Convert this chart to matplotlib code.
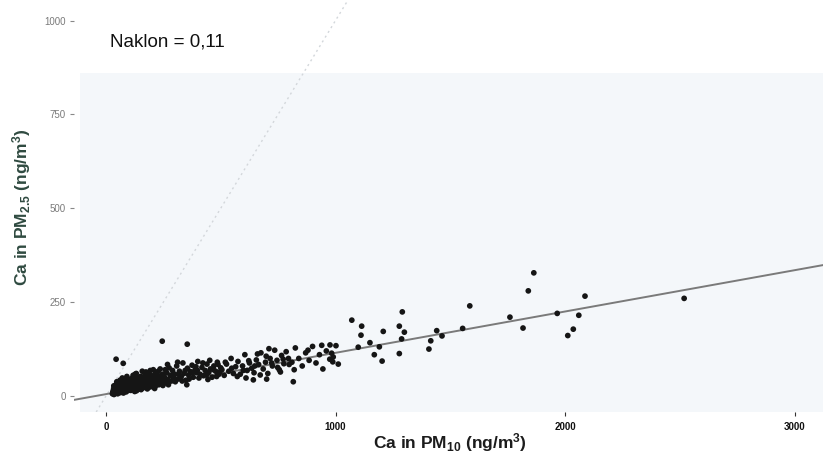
import matplotlib
matplotlib.use("Agg")
import matplotlib.pyplot as plt
from matplotlib.patches import Rectangle

# ---------------- data ----------------
ca_pm10 = [
    # dense low cluster
    28, 30, 32, 33, 35, 36, 38, 40, 41, 42, 44, 45, 46, 48, 50, 51, 52, 54, 55, 56,
    58, 60, 61, 62, 63, 65, 66, 68, 70, 71, 72, 74, 75, 76, 78, 80, 81, 82, 84, 85,
    86, 88, 90, 91, 92, 94, 95, 96, 98, 100,
    34, 39, 43, 47, 53, 57, 59, 64, 67, 69, 73, 77, 79, 83, 87, 89, 93, 97, 99, 37,
    49, 62, 74, 86,
    # 100-250
    102, 105, 108, 110, 112, 115, 118, 120, 122, 125, 128, 130, 132, 135, 138, 140,
    142, 145, 148, 150, 152, 155, 158, 160, 162, 165, 168, 170, 172, 175, 178, 180,
    182, 185, 188, 190, 192, 195, 198, 200, 203, 206, 210, 213, 216, 220, 223, 226,
    230, 233, 236, 240, 243, 246, 250,
    104, 113, 117, 124, 133, 137, 146, 153, 157, 166, 174, 183, 187, 196, 205, 212,
    218, 228, 238, 248, 109, 127, 143, 163, 177, 193, 215, 235,
    # 250-500
    255, 260, 265, 270, 275, 280, 285, 290, 295, 300, 308, 315, 320, 328, 335, 340,
    348, 355, 360, 368, 375, 380, 388, 395, 400, 410, 418, 425, 432, 440, 448, 455,
    462, 470, 478, 485, 492, 500,
    258, 272, 288, 302, 318, 332, 345, 362, 378, 392, 405, 422, 438, 452, 468, 482,
    496, 268, 312, 352, 398, 444, 488,
    # 500-800
    505, 515, 525, 535, 545, 555, 565, 575, 585, 595, 605, 615, 625, 635, 645, 655,
    665, 675, 685, 695, 705, 715, 725, 735, 745, 755, 765, 775, 785, 795,
    520, 548, 572, 598, 622, 648, 672, 698, 722, 748, 772, 798, 610, 660, 710, 760,
    816, 642, 700,
    # 800-1020
    810, 825, 840, 855, 870, 885, 900, 915, 930, 945, 960, 975, 990, 820, 880, 940,
    976, 1002, 983, 988, 1012,
    # outliers and high values
    245, 354, 44, 75,
    1071, 1114, 1111, 1291, 1278, 1300, 1208, 1288, 1150, 1191, 1099, 1169, 1203,
    1278, 1441, 1464, 1415, 1407, 1554, 1585, 1760, 1840, 1864, 1817, 1966, 2060,
    2087, 2036, 2012, 2519,
]
ca_pm25 = [
    6, 12, 9, 18, 4, 22, 14, 10, 27, 16, 8, 31, 20, 13, 24, 6, 35, 17, 11, 28,
    21, 15, 42, 9, 26, 19, 33, 12, 23, 48, 16, 29, 37, 8, 25, 18, 44, 30, 14, 22,
    35, 11, 27, 52, 19, 40, 24, 33, 15, 29,
    27, 20, 13, 38, 29, 25, 11, 34, 14, 30, 40, 21, 33, 26, 17, 45, 36, 20, 41, 15,
    19, 22, 11, 38,
    24, 38, 15, 46, 30, 20, 55, 35, 27, 12, 42, 31, 60, 22, 37, 48,
    18, 33, 26, 52, 41, 29, 66, 21, 36, 45, 32, 58, 24, 40, 50, 19,
    35, 62, 28, 44, 53, 31, 38, 25, 47, 70, 34, 56, 27, 43, 63, 39,
    30, 52, 72, 36, 49, 58, 41,
    18, 26, 40, 50, 14, 28, 44, 17, 30, 25, 64, 46, 23, 55, 32, 20,
    48, 66, 45, 28, 35, 58, 38, 50, 30, 68, 60, 33,
    50, 35, 62, 44, 75, 55, 40, 68, 48, 58, 80, 46, 66, 52, 88, 60,
    42, 74, 56, 65, 82, 50, 70, 62, 92, 58, 76, 54, 68, 85, 63, 72,
    50, 80, 66, 90, 58, 75,
    70, 30, 55, 38, 58, 40, 68, 45, 62, 78, 48, 88, 56, 95, 70, 52,
    64, 84, 90, 30, 68, 44, 84,
    70, 55, 85, 66, 100, 60, 78, 92, 58, 80, 110, 68, 88, 74, 62, 96,
    84, 115, 72, 90, 60, 100, 80, 122, 95, 70, 108, 86, 118, 100,
    90, 74, 52, 68, 94, 80, 56, 106, 88, 76, 98, 84, 48, 112, 126, 64,
    38, 43, 45,
    90, 128, 100, 80, 115, 95, 132, 88, 110, 72, 120, 98, 104, 70, 122, 135,
    136, 134, 114, 91, 85,
    146, 138, 98, 87,
    202, 186, 162, 224, 186, 170, 172, 152, 142, 131, 130, 110, 93,
    113, 174, 160, 147, 125, 180, 240, 210, 280, 328, 181, 220, 215,
    266, 178, 161, 260,
]

slope = 0.11
intercept = 5
annotation = "Naklon = 0,11"
x_ticks = [0, 1000, 2000, 3000]
y_ticks = [0, 250, 500, 750, 1000]

# ---------------- figure ----------------
plt.rcParams["font.family"] = ["Liberation Sans", "DejaVu Sans"]
plt.rcParams["mathtext.fontset"] = "custom"
plt.rcParams["mathtext.rm"] = "Liberation Sans:bold"
plt.rcParams["mathtext.it"] = "Liberation Sans:bold"
plt.rcParams["mathtext.bf"] = "Liberation Sans:bold"
plt.rcParams["mathtext.default"] = "rm"

W, H = 823, 459
fig = plt.figure(figsize=(W / 100, H / 100), dpi=100)
ax = fig.add_axes([74 / W, 1 - 412 / H, (W - 74) / W, 412 / H])
ax.set_xlim(-139.4, 3124)
ax.set_ylim(-42.6, 1054.6)
ax.set_facecolor("white")
for s in ax.spines.values():
    s.set_visible(False)

# faint panel tint as in the scan
ax.add_patch(Rectangle((0.008, 0.0), 0.992, 0.823, transform=ax.transAxes,
                       facecolor="#f4f7fa", edgecolor="none", zorder=0))

# 1:1 reference line (faint dotted)
ax.axline((0, 0), slope=1, color="#d3d7db", lw=1.0, ls=(0, (1.5, 2.5)), zorder=1)
# regression line
ax.axline((0, intercept), slope=slope, color="#7a7a7a", lw=1.4, zorder=2)

ax.scatter(ca_pm10, ca_pm25, s=17, color="#151515", edgecolors="none", zorder=3)

ax.text(17, 943, annotation, fontsize=13.5, color="#111111", ha="left", va="center")

ax.set_xticks(x_ticks)
ax.set_xticklabels([str(v) for v in x_ticks], fontsize=7, fontweight="bold", color="#111111")
ax.set_yticks(y_ticks)
ax.set_yticklabels([str(v) for v in y_ticks], fontsize=7, color="#7a7a7a")
ax.tick_params(axis="x", length=3, width=0.8, color="#333333", pad=4)
ax.tick_params(axis="y", length=3, width=0.8, color="#888888", pad=3)

fig.text(450 / W, 1 - 443 / H, r"Ca in PM$_{10}$ (ng/m$^{3}$)", fontsize=12.5,
         fontweight="bold", color="#1c1c1c", ha="center", va="center")
fig.text(22 / W, 1 - 207 / H, r"Ca in PM$_{2.5}$ (ng/m$^{3}$)", fontsize=12.5,
         fontweight="bold", color="#2f4a40", ha="center", va="center", rotation=90)

fig.savefig("out.png", dpi=100)
